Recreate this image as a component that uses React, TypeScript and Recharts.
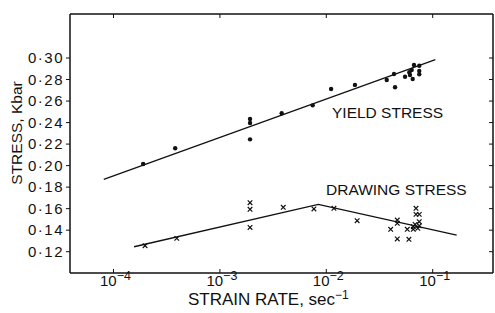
import { ComposedChart, Line, Scatter, XAxis, YAxis } from "recharts";

const FONT = "'Liberation Sans', Arial, sans-serif";
const INK = "#111";

// strain rate (sec^-1) / stress (Kbar)
const yieldRate = [1.9e-4, 3.8e-4, 1.92e-3, 1.92e-3, 1.92e-3, 3.81e-3, 7.45e-3, 0.0111, 0.0186, 0.037, 0.0433, 0.0443, 0.055, 0.0603, 0.0612, 0.0635, 0.0649, 0.0667, 0.0748, 0.0748, 0.0748];
const yieldStress = [0.2015, 0.2161, 0.2433, 0.2396, 0.2244, 0.2486, 0.256, 0.2712, 0.275, 0.2796, 0.2851, 0.2728, 0.2826, 0.2867, 0.2842, 0.2888, 0.2805, 0.2935, 0.2928, 0.2879, 0.2848];

const drawRate = [1.98e-4, 3.93e-4, 1.92e-3, 1.92e-3, 1.92e-3, 3.94e-3, 7.65e-3, 0.0118, 0.0195, 0.0403, 0.0465, 0.0465, 0.0465, 0.0577, 0.0598, 0.0657, 0.0657, 0.0683, 0.0697, 0.0697, 0.0748, 0.0748, 0.0748, 0.0725];
const drawStress = [0.1256, 0.1324, 0.1655, 0.1594, 0.1425, 0.1613, 0.1597, 0.1603, 0.1488, 0.1408, 0.1494, 0.1464, 0.1318, 0.1408, 0.1315, 0.1408, 0.1432, 0.1454, 0.1603, 0.1547, 0.1547, 0.1479, 0.1441, 0.1417];

// fitted lines drawn on the original figure
const yieldLineRate = [8.1e-5, 0.106];
const yieldLineStress = [0.1873, 0.2985];
const drawLineRate = [1.56e-4, 8.41e-3, 0.168];
const drawLineStress = [0.1246, 0.164, 0.1355];

const xTicks = [1e-4, 1e-3, 1e-2, 1e-1];
const yTicks = [0.12, 0.14, 0.16, 0.18, 0.2, 0.22, 0.24, 0.26, 0.28, 0.3];

const zip = (xs: number[], ys: number[]) => xs.map((x, i) => ({ x, y: ys[i] }));
const yieldPts = zip(yieldRate, yieldStress);
const drawPts = zip(drawRate, drawStress);
const yieldLine = zip(yieldLineRate, yieldLineStress);
const drawLine = zip(drawLineRate, drawLineStress);

const Dot = (p: any) => <circle cx={p.cx} cy={p.cy} r={2.2} fill={INK} />;
const Cross = (p: any) => {
  const s = 2.3;
  return (
    <path
      d={`M${p.cx - s},${p.cy - s}L${p.cx + s},${p.cy + s}M${p.cx - s},${p.cy + s}L${p.cx + s},${p.cy - s}`}
      stroke={INK}
      strokeWidth={1.2}
    />
  );
};

const PowTick = (p: any) => {
  const exp = Math.round(Math.log10(p.payload.value));
  return (
    <text x={p.x + 2} y={p.y + 13} textAnchor="middle" fontFamily={FONT} fontSize={15} fill={INK}>
      10
      <tspan dy={-6} fontSize={12.5}>{`\u2212${-exp}`}</tspan>
    </text>
  );
};

const axisLine = { stroke: INK, strokeWidth: 1.5 };
const tickLine = { stroke: INK, strokeWidth: 1 };
const X_DOMAIN = [3.9e-5, 0.369];
const Y_DOMAIN = [0.1002, 0.3409];

export default function App() {
  return (
    <div style={{ position: "absolute", left: 0, top: 0, width: 495, height: 313, background: "#fff" }}>
      <ComposedChart width={495} height={313} margin={{ top: 13, right: 1, bottom: 0, left: 0 }}>
        <XAxis
          xAxisId="b"
          dataKey="x"
          type="number"
          scale="log"
          domain={X_DOMAIN}
          allowDataOverflow
          ticks={xTicks}
          interval={0}
          height={40}
          axisLine={axisLine}
          tickLine={tickLine}
          tickSize={-4}
          tickMargin={4}
          tick={<PowTick />}
        />
        <XAxis
          xAxisId="t"
          orientation="top"
          dataKey="x"
          type="number"
          scale="log"
          domain={X_DOMAIN}
          allowDataOverflow
          ticks={xTicks}
          interval={0}
          height={1}
          axisLine={axisLine}
          tickLine={tickLine}
          tickSize={-4}
          tickFormatter={() => ""}
        />
        <YAxis
          yAxisId="l"
          type="number"
          domain={Y_DOMAIN}
          allowDataOverflow
          ticks={yTicks}
          interval={0}
          width={70}
          axisLine={axisLine}
          tickLine={tickLine}
          tickSize={4}
          tickMargin={2}
          tick={{ fontSize: 15, fill: INK, fontFamily: FONT, letterSpacing: 1.5 }}
          tickFormatter={(v: number) => `0\u00b7${Math.round(v * 100)}`}
        />
        <YAxis
          yAxisId="r"
          orientation="right"
          type="number"
          domain={Y_DOMAIN}
          allowDataOverflow
          ticks={yTicks}
          interval={0}
          width={1}
          axisLine={axisLine}
          tickLine={tickLine}
          tickSize={-4}
          tickFormatter={() => ""}
        />
        <Line xAxisId="b" yAxisId="l" data={yieldLine} dataKey="y" type="linear" stroke={INK} strokeWidth={1.3} dot={false} isAnimationActive={false} />
        <Line xAxisId="b" yAxisId="l" data={drawLine} dataKey="y" type="linear" stroke={INK} strokeWidth={1.3} dot={false} isAnimationActive={false} />
        <Scatter xAxisId="b" yAxisId="l" data={yieldPts} dataKey="y" shape={Dot} isAnimationActive={false} />
        <Scatter xAxisId="b" yAxisId="l" data={drawPts} dataKey="y" shape={Cross} isAnimationActive={false} />
      </ComposedChart>
      <svg width={495} height={313} style={{ position: "absolute", left: 0, top: 0, pointerEvents: "none" }}>
        <g fontFamily={FONT} fill={INK}>
          <text x={332} y={118} fontSize={15.5}>YIELD STRESS</text>
          <text x={326} y={195} fontSize={15.5}>DRAWING STRESS</text>
          <text x={188} y={305} fontSize={17}>
            STRAIN RATE, sec
            <tspan dy={-6} fontSize={12}>{"\u22121"}</tspan>
          </text>
          <text x={0} y={0} fontSize={15.5} textAnchor="middle" transform="translate(22,133) rotate(-90)">
            STRESS, Kbar
          </text>
        </g>
      </svg>
    </div>
  );
}
